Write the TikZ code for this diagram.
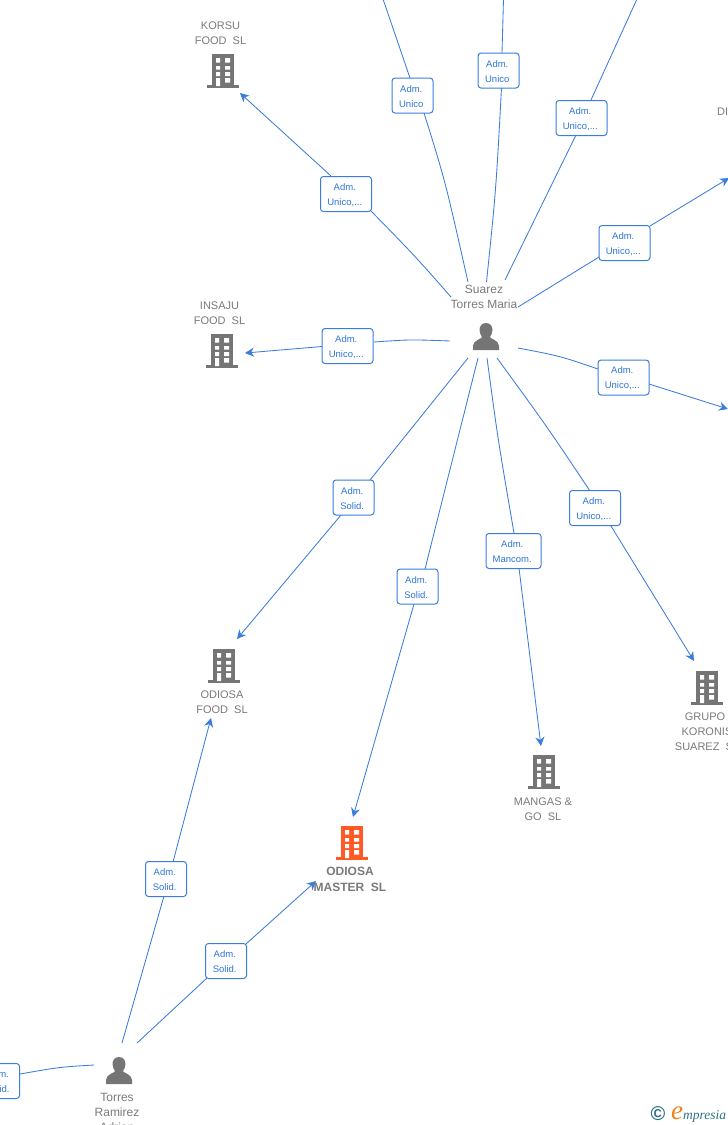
\documentclass[tikz,border=0pt]{standalone}
\usepackage{fontspec}
\setmainfont{Liberation Sans}
\newfontfamily\logofont{Liberation Serif}
\usetikzlibrary{arrows.meta,backgrounds}
\definecolor{edgeblue}{HTML}{3B7DDD}
\definecolor{labblue}{HTML}{2F76D8}
\definecolor{icongray}{HTML}{757575}
\definecolor{textgray}{HTML}{7A7A7A}
\definecolor{hotorange}{HTML}{FF5A26}
\definecolor{logoteal}{HTML}{2F7186}
\definecolor{logoorange}{HTML}{F08020}
\newcommand\twolines[2]{\rule{0pt}{9pt}#1\kern2.5pt\\#2\kern2.5pt}
\tikzset{
  rel/.style={draw=edgeblue,line width=1pt,fill=white,rounded corners=3pt,minimum height=35pt,inner xsep=0pt,inner ysep=0pt,
     text=labblue,font=\fontsize{9.5}{15}\selectfont,align=center},
  relA/.style={rel,minimum width=41pt},
  relB/.style={rel,minimum width=51pt},
  conn/.style={draw=edgeblue,line width=0.85pt},
  arr/.style={conn,-{Stealth[length=9pt,width=9pt]}},
  entname/.style={text=textgray,font=\fontsize{11}{15}\selectfont,align=center,inner sep=0pt},
  building/.pic={
    \fill[pic actions] (-11,0) rectangle (11,31);
    \fill[pic actions] (-16,31) rectangle (16,34);
    \fill[white] (-7,4) rectangle (-3,8.5) (2,4) rectangle (7,8.5)
                 (-7,12) rectangle (-3,15.5) (2,12) rectangle (7,15.5)
                 (-7,18) rectangle (-3,22) (2,18) rectangle (7,22)
                 (-7,24) rectangle (-3,32) (2,24) rectangle (7,28.5);
  },
  person/.pic={
    \fill[pic actions] (0,-15) .. controls (4.5,-15) and (6.5,-11.5) .. (6.5,-8)
      .. controls (6.5,-5) and (5,-2.5) .. (4,-1) .. controls (4,1) and (13,2) .. (13,8)
      -- (13,12) -- (-13,12) -- (-13,8) .. controls (-13,2) and (-4,1) .. (-4,-1)
      .. controls (-5,-2.5) and (-6.5,-5) .. (-6.5,-8) .. controls (-6.5,-11.5) and (-4.5,-15) .. (0,-15) -- cycle;
  }
}
\begin{document}
\begin{tikzpicture}[x=1pt,y=-1pt]
\useasboundingbox (0,0) rectangle (728,1125);
\clip (0,0) rectangle (728,1125);
% icons
\pic[fill=icongray] at (223,54) {building};
\pic[fill=icongray] at (222,334) {building};
\pic[fill=icongray] at (224,649) {building};
\pic[fill=icongray] at (707,671) {building};
\pic[fill=icongray] at (544,755) {building};
\pic[fill=hotorange] at (352,826) {building};
\pic[fill=icongray] at (486,338) {person};
\pic[fill=icongray] at (119,1072) {person};
% names
\node[entname,anchor=north] (korsu) at (220.5,22) {KORSU\\FOOD\ \ SL};
\node[entname,anchor=north] (insaju) at (219.5,302) {INSAJU\\FOOD\ \ SL};
\node[entname,anchor=north] (ofood) at (222,691) {ODIOSA\\FOOD\ \ SL};
\node[entname,anchor=north] (grupo) at (707,713) {GRUPO\kern4pt\\KORONIS\\SUAREZ\ \ SL};
\node[entname,anchor=north] (mangas) at (543,798) {MANGAS \&\\GO\ \ SL};
\node[entname,anchor=north,font=\fontsize{12}{16}\selectfont\bfseries] (omaster) at (350,867) {ODIOSA\\MASTER\ \ SL};
\node[entname,anchor=north west] (di) at (717,108) {DI};
\node[entname,anchor=north,font=\fontsize{12}{15}\selectfont] (suarez) at (484,285) {Suarez\\Torres Maria};
\node[entname,anchor=north,font=\fontsize{12}{15}\selectfont] (torres) at (117,1093) {Torres\\Ramirez\\Adrian};
% labels
\node[relA] (l1) at (412.5,95.5) {\twolines{Adm.}{Unico}};
\node[relA] (l2) at (498.5,70.5) {\twolines{Adm.}{Unico}};
\node[relB] (l3) at (581.5,118) {\twolines{Adm.}{Unico,...}};
\node[relB] (l4) at (624.5,243) {\twolines{Adm.}{Unico,...}};
\node[relB] (l5) at (346,194) {\twolines{Adm.}{Unico,...}};
\node[relB] (l6) at (347.5,346) {\twolines{Adm.}{Unico,...}};
\node[relB] (l7) at (623.5,377.5) {\twolines{Adm.}{Unico,...}};
\node[relA] (l8) at (353.5,497.5) {\twolines{Adm.}{Solid.}};
\node[relA] (l9) at (417.5,586.5) {\twolines{Adm.}{Solid.}};
\node[rel,minimum width=55pt] (l10) at (513.5,551) {\twolines{Adm.}{Mancom.}};
\node[relB] (l11) at (595,508) {\twolines{Adm.}{Unico,...}};
\node[relA] (l12) at (166,879) {\twolines{Adm.}{Solid.}};
\node[relA] (l13) at (226,961) {\twolines{Adm.}{Solid.}};
\node[relA] (l14) at (-1,1081) {\twolines{Adm.}{Solid.}};
% free ends
\coordinate (t1) at (383,-1);
\coordinate (t2) at (503.5,-1);
\coordinate (t3) at (637,-1);
\coordinate (s1) at (468,282);
\coordinate (s2) at (486.5,282);
\coordinate (s3) at (505,280);
\coordinate (s4) at (518,307);
\coordinate (s5) at (451,297);
\coordinate (s6) at (450,341);
\coordinate (s7) at (518,348);
\coordinate (s8) at (468,358);
\coordinate (s9) at (478,358);
\coordinate (s10) at (487,358);
\coordinate (s11) at (497,358);
\coordinate (r1) at (122,1043);
\coordinate (r2) at (137,1043);
\coordinate (r3) at (94,1065);
\coordinate (e4) at (729,178);
\coordinate (e5) at (240,93);
\coordinate (e6) at (245,353);
\coordinate (e7) at (728,409);
\coordinate (e8) at (237,639);
\coordinate (e9) at (353,817);
\coordinate (e10) at (541,746);
\coordinate (e11) at (694,661);
\coordinate (e12) at (211,718);
\coordinate (e13) at (316,881);
% points where connectors meet the label boxes
\coordinate (a1) at (410,78);   \coordinate (b1) at (424,113);
\coordinate (a2) at (502,53);   \coordinate (b2) at (501.5,88);
\coordinate (a3) at (591,100);  \coordinate (b3) at (576,135);
\coordinate (a4) at (599,257);  \coordinate (b4) at (650,226);
\coordinate (a5) at (331,176);  \coordinate (b5) at (371,211);
\coordinate (a6) at (322,346.5);\coordinate (b6) at (374,342);
\coordinate (a7) at (598,369);  \coordinate (b7) at (649,384);
\coordinate (a8) at (370,480);  \coordinate (b8) at (341,515);
\coordinate (a9) at (425,569);  \coordinate (b9) at (414,604);
\coordinate (a10) at (514,533); \coordinate (b10) at (519,568);
\coordinate (a11) at (590,491); \coordinate (b11) at (611,526);
\coordinate (a12) at (173,862); \coordinate (b12) at (164,896);
\coordinate (a13) at (246,944); \coordinate (b13) at (207,978);
\coordinate (b14) at (20,1074);
% connectors
\begin{scope}[on background layer]
\draw[conn] (t1) -- (a1);
\draw[conn] (b1) .. controls (445,180) .. (s1);
\draw[conn] (t2) -- (a2);
\draw[conn] (b2) .. controls (496,190) .. (s2);
\draw[conn] (t3) -- (a3);
\draw[conn] (b3) -- (s3);
\draw[conn] (s4) -- (a4);
\draw[arr] (b4) -- (e4);
\draw[conn] (s5) .. controls (415,256) .. (b5);
\draw[arr] (a5) -- (e5);
\draw[conn] (s6) .. controls (410,339.5) .. (b6);
\draw[arr] (a6) -- (e6);
\draw[conn] (s7) .. controls (560,356) .. (a7);
\draw[arr] (b7) -- (e7);
\draw[conn] (s8) -- (a8);
\draw[arr] (b8) -- (e8);
\draw[conn] (s9) -- (a9);
\draw[arr] (b9) -- (e9);
\draw[conn] (s10) .. controls (498,440) .. (a10);
\draw[arr] (b10) -- (e10);
\draw[conn] (s11) .. controls (548,428) .. (a11);
\draw[arr] (b11) -- (e11);
\draw[conn] (r1) -- (b12);
\draw[arr] (a12) -- (e12);
\draw[conn] (r2) -- (b13);
\draw[arr] (a13) -- (e13);
\draw[conn] (r3) .. controls (60,1067) .. (b14);
\end{scope}
% logo
\node[text=logoteal,inner sep=0pt,font=\bfseries\fontsize{20}{20}\selectfont] (copy) at (658,1114) {©};
\node[anchor=base west,inner sep=0pt,text=logoorange,font=\logofont\itshape\fontsize{27}{27}\selectfont] (loge) at (671,1119) {e};
\node[anchor=base west,inner sep=0pt,text=logoteal,font=\logofont\itshape\fontsize{13.5}{14}\selectfont] (logt) at (683,1119) {mpresia};
\end{tikzpicture}
\end{document}
